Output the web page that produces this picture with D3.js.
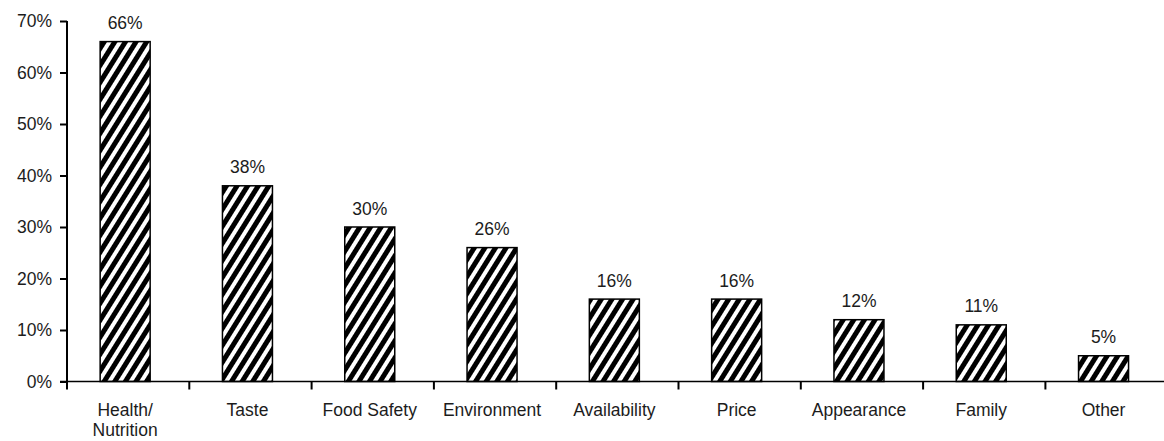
<!DOCTYPE html>
<html>
<head>
<meta charset="utf-8">
<script src="https://cdn.jsdelivr.net/npm/d3@7"></script>
<style>
  html, body { margin: 0; padding: 0; background: #fff; }
  svg { display: block; }
  text { font-family: "Liberation Sans", Arial, sans-serif; fill: #1c1c1c; }
</style>
</head>
<body>
<svg id="chart" width="1164" height="441"></svg>
<script>
// Reasons cited (share of respondents)
const categories = ["Health/\nNutrition", "Taste", "Food Safety", "Environment", "Availability", "Price", "Appearance", "Family", "Other"];
const values = [66, 38, 30, 26, 16, 16, 12, 11, 5];
const yTicks = [0, 10, 20, 30, 40, 50, 60, 70];

const svg = d3.select("#chart");
const W = 1164, H = 441;
const plotLeft = 67, plotBottom = 381.5, plotTop = 21;
const fontSize = 17.5;

const x = d3.scaleBand().domain(categories).range([plotLeft, plotLeft + 9 * 122.3]).padding(0);
const y = d3.scaleLinear().domain([0, 70]).range([plotBottom, plotTop]);

// diagonal hatch fill
const defs = svg.append("defs");
const pat = defs.append("pattern")
  .attr("id", "hatch")
  .attr("patternUnits", "userSpaceOnUse")
  .attr("width", 9).attr("height", 9)
  .attr("patternTransform", "rotate(32)");
pat.append("rect").attr("width", 9).attr("height", 9).attr("fill", "#fff");
pat.append("rect").attr("width", 5).attr("height", 9).attr("fill", "#000");

const barW = 50;
const cx = d => x(d) + x.bandwidth() / 2 - 3;

// bars
svg.append("g").selectAll("rect")
  .data(categories)
  .join("rect")
  .attr("x", d => cx(d) - barW / 2)
  .attr("y", (d, i) => y(values[i]))
  .attr("width", barW)
  .attr("height", (d, i) => y(0) - y(values[i]))
  .attr("fill", "url(#hatch)")
  .attr("stroke", "#000")
  .attr("stroke-width", 1.5);

// value labels
svg.append("g").selectAll("text")
  .data(categories)
  .join("text")
  .attr("x", d => cx(d))
  .attr("y", (d, i) => y(values[i]) - 12.5)
  .attr("text-anchor", "middle")
  .attr("font-size", fontSize)
  .text((d, i) => values[i] + "%");

// y axis
const yAxis = svg.append("g")
  .attr("transform", `translate(${plotLeft},0)`)
  .call(d3.axisLeft(y).tickValues(yTicks).tickFormat(d => d + "%").tickSize(7).tickPadding(8));
yAxis.select(".domain").attr("stroke", "#000").attr("stroke-width", 2).attr("d", `M0,${plotTop}V${plotBottom}`);
yAxis.selectAll(".tick line").attr("stroke", "#000").attr("stroke-width", 2);
yAxis.selectAll(".tick text").attr("font-size", fontSize).attr("font-family", null).attr("fill", "#1c1c1c");

// x axis
const xAxis = svg.append("g")
  .attr("transform", `translate(0,${plotBottom})`)
  .call(d3.axisBottom(x).tickSize(0).tickFormat(""));
xAxis.select(".domain").attr("stroke", "#000").attr("stroke-width", 1.6)
  .attr("d", `M${plotLeft - 7},0H${W}`);

// boundary ticks between categories
const bounds = categories.map(d => x(d));
xAxis.append("g").selectAll("line")
  .data(bounds)
  .join("line")
  .attr("x1", d => d).attr("x2", d => d)
  .attr("y1", 0).attr("y2", 8)
  .attr("stroke", "#000").attr("stroke-width", 2);

// category labels (multi-line)
const labels = svg.append("g").selectAll("text")
  .data(categories)
  .join("text")
  .attr("text-anchor", "middle")
  .attr("font-size", fontSize)
  .attr("y", 416);
labels.each(function (d) {
  const lines = d.split("\n");
  d3.select(this).selectAll("tspan")
    .data(lines)
    .join("tspan")
    .attr("x", cx(d))
    .attr("dy", (l, i) => i === 0 ? 0 : 20)
    .text(l => l);
});
</script>
</body>
</html>
